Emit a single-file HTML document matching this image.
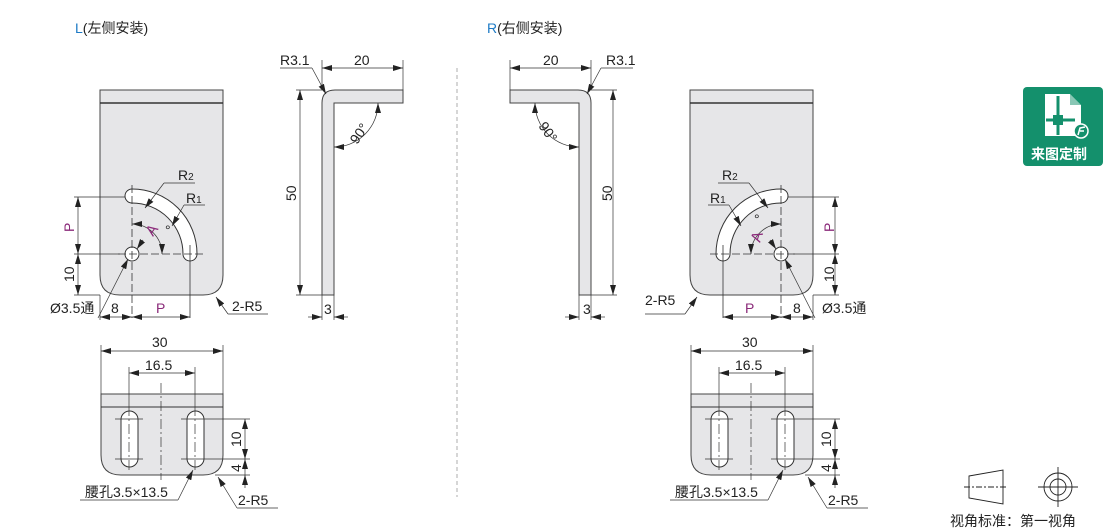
<!DOCTYPE html>
<html><head><meta charset="utf-8"><style>
html,body{margin:0;padding:0;background:#fff;}
svg{display:block;}
text{font-family:"Liberation Sans","Noto Sans CJK SC",sans-serif;font-size:14px;fill:#222;}
.m{fill:#8b2a7a;}
</style></head><body>
<svg width="1110" height="531" viewBox="0 0 1110 531" xmlns="http://www.w3.org/2000/svg">
<defs>
<marker id="a" viewBox="0 0 10 6" refX="10" refY="3" markerWidth="10" markerHeight="6" orient="auto-start-reverse" markerUnits="userSpaceOnUse"><path d="M0,0 L10,3 L0,6 z" fill="#222"/></marker>
<g id="front">
  <path d="M100,90 H223 V275 Q223,295 203,295 H120 Q100,295 100,275 Z" fill="#e6e6e8" stroke="#444" stroke-width="1"/>
  <line x1="100" y1="103" x2="223" y2="103" stroke="#333" stroke-width="1.5"/>
  <path d="M132,189 A65,65 0 0 1 197,254 A7,7 0 0 1 183,254 A51,51 0 0 0 132,203 A7,7 0 0 1 132,189 Z" fill="#fff" stroke="#333" stroke-width="1"/>
  <circle cx="132" cy="254" r="7" fill="#fff" stroke="#333"/>
  <g stroke="#333" stroke-width="0.8" stroke-dasharray="8,3" fill="none">
    <line x1="132" y1="185" x2="132" y2="318"/>
    <line x1="118" y1="254" x2="205" y2="254"/>
    <line x1="190" y1="245" x2="190" y2="318" stroke-dasharray="none"/>
  </g>
  <g stroke="#333" stroke-width="0.7" fill="none">
    <line x1="74" y1="197" x2="125" y2="197"/>
    <line x1="74" y1="254" x2="120" y2="254"/>
    <line x1="74" y1="295" x2="100" y2="295"/>
    <line x1="78" y1="197" x2="78" y2="254" marker-start="url(#a)" marker-end="url(#a)"/>
    <line x1="78" y1="254" x2="78" y2="295" marker-start="url(#a)" marker-end="url(#a)"/>
    <line x1="100" y1="295" x2="100" y2="320"/>
    <line x1="100" y1="317" x2="132" y2="317" marker-start="url(#a)" marker-end="url(#a)"/>
    <line x1="132" y1="317" x2="190" y2="317" marker-start="url(#a)" marker-end="url(#a)"/>
    <path d="M132,224 A30,30 0 0 1 162,254" marker-start="url(#a)" marker-end="url(#a)"/>
    <line x1="164" y1="183" x2="145" y2="208" marker-end="url(#a)"/>
    <line x1="164" y1="183" x2="195" y2="183"/>
    <line x1="184" y1="205" x2="172" y2="226" marker-end="url(#a)"/>
    <line x1="184" y1="205" x2="205" y2="205"/>
    <line x1="98" y1="318" x2="128" y2="259" marker-end="url(#a)"/>
    <line x1="143" y1="240" x2="137" y2="249" marker-end="url(#a)"/>
    <line x1="228" y1="314" x2="216" y2="297" marker-end="url(#a)"/>
    <line x1="228" y1="314" x2="268" y2="314"/>
  </g>
</g>
<g id="side">
  <path d="M322,295 V103 Q322,90 335,90 H403 V103 H334 V295 Z" fill="#e6e6e8" stroke="#444"/>
  <g stroke="#333" stroke-width="0.7" fill="none">
    <line x1="296" y1="90" x2="322" y2="90"/>
    <line x1="296" y1="295" x2="322" y2="295"/>
    <line x1="300" y1="90" x2="300" y2="295" marker-start="url(#a)" marker-end="url(#a)"/>
    <line x1="322" y1="60" x2="322" y2="90"/>
    <line x1="403" y1="60" x2="403" y2="90"/>
    <line x1="322" y1="68" x2="403" y2="68" marker-start="url(#a)" marker-end="url(#a)"/>
    <line x1="312" y1="68" x2="326" y2="94" marker-end="url(#a)"/>
    <line x1="280" y1="68" x2="312" y2="68"/>
    <path d="M378,103 A44,44 0 0 1 334,147" marker-start="url(#a)" marker-end="url(#a)"/>
    <line x1="322" y1="295" x2="322" y2="320"/>
    <line x1="334" y1="295" x2="334" y2="320"/>
    <line x1="308" y1="317" x2="322" y2="317" marker-end="url(#a)"/>
    <line x1="348" y1="317" x2="334" y2="317" marker-end="url(#a)"/>
  </g>
</g>
<g id="bottom">
  <path d="M101,394 H223 V455 Q223,475 203,475 H121 Q101,475 101,455 Z" fill="#e6e6e8" stroke="#444"/>
  <line x1="101" y1="407" x2="223" y2="407" stroke="#333"/>
  <rect x="121" y="411" width="17" height="56" rx="8.5" fill="#fff" stroke="#333"/>
  <rect x="187" y="411" width="17" height="56" rx="8.5" fill="#fff" stroke="#333"/>
  <g stroke="#333" stroke-width="0.7" fill="none">
    <line x1="161" y1="383" x2="161" y2="480" stroke-dasharray="10,3,2,3"/>
    <line x1="129" y1="406" x2="129" y2="472" stroke-dasharray="10,3,2,3"/>
    <line x1="195" y1="406" x2="195" y2="472" stroke-dasharray="10,3,2,3"/>
    <line x1="115" y1="419" x2="143" y2="419"/><line x1="115" y1="459" x2="143" y2="459"/>
    <line x1="181" y1="419" x2="250" y2="419"/><line x1="181" y1="459" x2="250" y2="459"/>
    <line x1="215" y1="475" x2="250" y2="475"/>
    <line x1="245" y1="419" x2="245" y2="459" marker-start="url(#a)" marker-end="url(#a)"/>
    <line x1="245" y1="459" x2="245" y2="475" marker-start="url(#a)"/>
    <line x1="245" y1="475" x2="245" y2="488" marker-start="url(#a)"/>
    <line x1="101" y1="345" x2="101" y2="394"/><line x1="223" y1="345" x2="223" y2="394"/>
    <line x1="101" y1="351" x2="223" y2="351" marker-start="url(#a)" marker-end="url(#a)"/>
    <line x1="129" y1="367" x2="129" y2="406"/><line x1="195" y1="367" x2="195" y2="406"/>
    <line x1="129" y1="373" x2="195" y2="373" marker-start="url(#a)" marker-end="url(#a)"/>
    <line x1="80" y1="500" x2="178" y2="500"/>
    <line x1="178" y1="500" x2="193" y2="470" marker-end="url(#a)"/>
    <line x1="237" y1="508" x2="218" y2="477" marker-end="url(#a)"/>
    <line x1="237" y1="508" x2="278" y2="508"/>
  </g>
</g>
</defs>

<text x="75" y="33"><tspan fill="#1e7bc6">L</tspan>(左侧安装)</text>
<text x="487" y="33"><tspan fill="#1e7bc6">R</tspan>(右侧安装)</text>

<use href="#front"/>
<use href="#side"/>
<use href="#bottom"/>
<g transform="matrix(-1,0,0,1,913,0)"><use href="#front"/><use href="#side"/></g>
<g transform="translate(590,0)"><use href="#bottom"/></g>

<line x1="457" y1="68" x2="457" y2="497" stroke="#999" stroke-width="0.8" stroke-dasharray="4,3"/>

<!-- left front text -->
<text x="178" y="180">R<tspan font-size="10">2</tspan></text>
<text x="186" y="203">R<tspan font-size="10">1</tspan></text>
<text class="m" x="0" y="0" transform="translate(153,237) rotate(-55)" style="font-size:15px">A</text>
<text x="165" y="235" font-size="11">°</text>
<text class="m" x="0" y="0" transform="translate(74,232) rotate(-90)">P</text>
<text x="0" y="0" transform="translate(74,282) rotate(-90)">10</text>
<text x="50" y="313">Ø3.5通</text>
<text x="111" y="313">8</text>
<text class="m" x="156" y="313">P</text>
<text x="232" y="311">2-R5</text>
<!-- left side -->
<text x="280" y="65">R3.1</text>
<text x="354" y="65">20</text>
<text x="0" y="0" transform="translate(296,201) rotate(-90)">50</text>
<text x="0" y="0" transform="translate(357,145) rotate(-55)">90°</text>
<text x="324" y="314">3</text>
<!-- left bottom -->
<text x="152" y="347">30</text>
<text x="145" y="370">16.5</text>
<text x="0" y="0" transform="translate(241,447) rotate(-90)">10</text>
<text x="0" y="0" transform="translate(241,472) rotate(-90)">4</text>
<text x="85" y="497">腰孔3.5×13.5</text>
<text x="238" y="505">2-R5</text>

<!-- right front text -->
<text x="722" y="180">R<tspan font-size="10">2</tspan></text>
<text x="710" y="203">R<tspan font-size="10">1</tspan></text>
<text class="m" x="0" y="0" transform="translate(760,243) rotate(-72)" style="font-size:15px">A</text>
<text x="754" y="224" font-size="11">°</text>
<text class="m" x="0" y="0" transform="translate(834,232) rotate(-90)">P</text>
<text x="0" y="0" transform="translate(834,282) rotate(-90)">10</text>
<text x="822" y="313">Ø3.5通</text>
<text x="793" y="313">8</text>
<text class="m" x="745" y="313">P</text>
<text x="645" y="305">2-R5</text>
<!-- right side -->
<text x="606" y="65">R3.1</text>
<text x="543" y="65">20</text>
<text x="0" y="0" transform="translate(612,201) rotate(-90)">50</text>
<text x="0" y="0" transform="translate(538,126) rotate(55)">90°</text>
<text x="583" y="314">3</text>
<!-- right bottom -->
<text x="742" y="347">30</text>
<text x="735" y="370">16.5</text>
<text x="0" y="0" transform="translate(831,447) rotate(-90)">10</text>
<text x="0" y="0" transform="translate(831,472) rotate(-90)">4</text>
<text x="675" y="497">腰孔3.5×13.5</text>
<text x="828" y="505">2-R5</text>

<!-- badge -->
<rect x="1023" y="87" width="80" height="79" rx="4" fill="#14906c"/>
<path d="M1045,94 H1070 L1081,105 V136 H1045 Z" fill="#fff"/>
<path d="M1070,94 V105 H1081 Z" fill="#14906c" opacity="0.5"/>
<line x1="1058" y1="96" x2="1058" y2="135" stroke="#14906c" stroke-width="3"/>
<line x1="1046" y1="120" x2="1075" y2="120" stroke="#14906c" stroke-width="3"/>
<rect x="1053" y="115" width="10" height="10" fill="#14906c"/>
<circle cx="1081" cy="131" r="7" fill="#14906c" stroke="#fff" stroke-width="1.5"/>
<path d="M1078,135 L1080,128 L1085,127 M1080,131 L1084,131" stroke="#fff" stroke-width="1.5" fill="none"/>
<text x="1031" y="159" style="fill:#fff;font-weight:bold;font-size:14px">来图定制</text>

<!-- view standard -->
<g stroke="#222" stroke-width="0.9" fill="none">
  <path d="M969,476 L1003,470 V504 L969,498 Z"/>
  <line x1="964" y1="487" x2="1008" y2="487" stroke-dasharray="6,2,2,2"/>
  <circle cx="1058" cy="487" r="14"/>
  <circle cx="1058" cy="487" r="8"/>
  <line x1="1038" y1="487" x2="1078" y2="487"/>
  <line x1="1058" y1="467" x2="1058" y2="507"/>
</g>
<text x="950" y="526" style="font-size:14px">视角标准：第一视角</text>
</svg>
</body></html>
